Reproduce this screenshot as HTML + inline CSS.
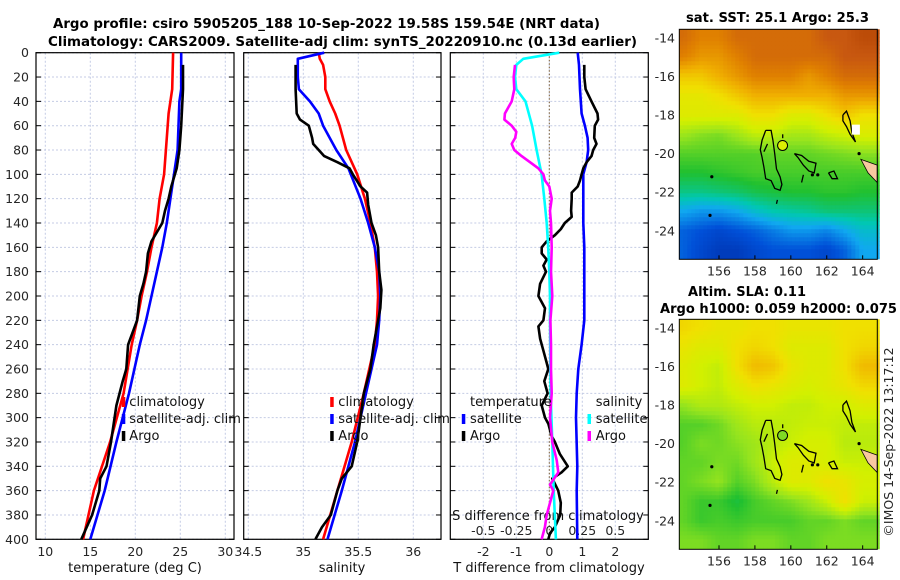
<!DOCTYPE html>
<html><head><meta charset="utf-8">
<style>
html,body{margin:0;padding:0;background:#fff;}
svg{display:block;font-family:"DejaVu Sans","Liberation Sans",sans-serif;}
.tk{font-size:12.5px;fill:#262626;}
.tt{font-size:13.5px;font-weight:bold;fill:#000;}
.lg{font-size:13px;fill:#111;}
</style></head>
<body>
<svg id="fig" width="900" height="580" viewBox="0 0 900 580">
<g id="bg"></g>
<text class="tt" x="53" y="28" textLength="547" lengthAdjust="spacingAndGlyphs">Argo profile: csiro 5905205_188 10-Sep-2022 19.58S 159.54E (NRT data)</text>
<text class="tt" x="48" y="46" textLength="589" lengthAdjust="spacingAndGlyphs">Climatology: CARS2009. Satellite-adj clim: synTS_20220910.nc (0.13d earlier)</text>
<text class="tt" x="686" y="22" textLength="183" lengthAdjust="spacingAndGlyphs">sat. SST: 25.1 Argo: 25.3</text>
<text class="tt" x="688" y="296" textLength="118" lengthAdjust="spacingAndGlyphs">Altim. SLA: 0.11</text>
<text class="tt" x="660" y="313" textLength="237" lengthAdjust="spacingAndGlyphs">Argo h1000: 0.059 h2000: 0.075</text>
<text class="tk" transform="translate(893,442) rotate(-90)" text-anchor="middle">©IMOS 14-Sep-2022 13:17:12</text>
</svg>
<script>
// ---------- data ----------
const depthTicks = [0,20,40,60,80,100,120,140,160,180,200,220,240,260,280,300,320,340,360,380,400];
const tempTicks = [10,15,20,25,30];
const salTicks = [34.5,35,35.5,36];
const salTickLabels = ["34.5","35","35.5","36"];
const tdiffTicks = [-2,-1,0,1,2];
const sdiffTicks = [-0.5,-0.25,0,0.25,0.5];
const sdiffTickLabels = ["-0.5","-0.25","0","0.25","0.5"];

const tClimDepth = [0,30,50,80,100,120,140,160,180,200,220,240,280,320,360,400];
const tClimVal   = [24.2,24.1,23.7,23.4,23.2,22.7,22.4,21.8,21.3,20.7,20.2,19.6,18.7,17.2,15.4,14.2];
const tSatDepth  = [0,30,40,60,80,100,120,140,160,180,200,220,240,280,320,360,400];
const tSatVal    = [25.1,25.1,24.9,24.8,24.7,24.3,23.9,23.5,23.0,22.4,21.8,21.2,20.5,19.3,17.9,16.6,15.0];
const tArgoDepth = [10,30,60,80,95,110,120,130,140,145,155,165,180,190,200,220,240,260,270,290,300,320,340,350,360,380,400];
const tArgoVal   = [25.3,25.3,25.1,24.9,24.6,24.0,23.7,23.3,23.0,22.6,21.8,21.4,21.2,20.9,20.5,20.2,19.2,19.0,18.6,17.9,17.7,17.3,16.8,16.1,16.0,15.2,14.0];

const sClimDepth = [0,5,10,20,30,40,50,60,80,100,120,140,160,180,200,220,240,280,320,360,400];
const sClimVal   = [35.14,35.15,35.18,35.20,35.20,35.24,35.29,35.33,35.39,35.49,35.56,35.61,35.65,35.67,35.68,35.67,35.65,35.55,35.44,35.31,35.18];
const sSatDepth  = [0,5,20,30,40,50,60,80,95,120,140,160,180,200,220,240,280,320,360,400];
const sSatVal    = [35.19,34.95,34.95,34.96,35.06,35.14,35.18,35.30,35.41,35.52,35.59,35.65,35.69,35.70,35.69,35.67,35.57,35.47,35.35,35.22];
const sArgoDepth = [10,30,50,55,60,70,75,80,85,90,95,100,110,115,125,140,150,160,180,195,210,230,240,260,280,300,320,340,350,360,380,390,400];
const sArgoVal   = [34.93,34.93,34.94,34.97,35.05,35.08,35.09,35.14,35.19,35.31,35.42,35.45,35.52,35.58,35.59,35.62,35.66,35.68,35.69,35.71,35.70,35.66,35.64,35.61,35.55,35.52,35.49,35.44,35.35,35.31,35.25,35.17,35.11];

const dSatTDepth = [0,10,30,50,60,70,80,90,100,120,140,160,200,220,240,260,280,300,340,360,400];
const dSatTVal   = [0.86,0.90,0.93,0.98,1.08,1.16,1.18,1.13,1.03,1.03,1.03,1.06,1.06,1.06,0.98,0.88,0.83,0.81,0.85,0.83,0.85];
const dArgoTDepth = [10,20,30,40,50,55,60,70,75,80,85,90,95,100,105,110,115,120,130,135,140,145,150,155,160,165,170,175,180,190,200,205,210,220,225,235,245,255,260,270,280,290,300,305,315,320,330,340,345,350,360,370,380,390,395,400];
const dArgoTVal   = [1.06,1.06,1.10,1.28,1.46,1.48,1.38,1.36,1.43,1.33,1.28,1.13,1.03,0.98,0.93,0.86,0.68,0.68,0.66,0.68,0.47,0.35,0.17,-0.08,-0.23,-0.23,-0.08,-0.18,-0.10,-0.28,-0.33,-0.23,-0.13,-0.18,-0.33,-0.28,-0.18,-0.08,-0.03,-0.15,-0.05,-0.23,-0.13,-0.03,0.07,0.17,0.32,0.56,0.37,0.09,0.27,0.35,0.33,0.17,0.02,-0.03];
const dSatSDepth = [0,5,10,20,30,40,60,80,100,120,140,160,180,200,220,280,320,360,400];
const dSatSVal   = [0.076,-0.197,-0.25,-0.26,-0.25,-0.18,-0.13,-0.096,-0.058,-0.038,-0.02,-0.008,0.0,0.005,0.005,0.01,0.023,0.033,0.05];
const dArgoSDepth = [10,20,30,40,50,55,60,65,70,75,80,85,90,95,100,105,110,120,130,140,160,180,200,220,240,260,280,300,320,335,345,355,360,380,390,400];
const dArgoSVal   = [-0.26,-0.27,-0.265,-0.285,-0.336,-0.34,-0.285,-0.25,-0.258,-0.285,-0.265,-0.21,-0.146,-0.083,-0.045,-0.033,0.0,0.018,0.005,0.013,0.018,0.013,0.023,0.008,0.013,0.013,0.018,0.005,0.023,0.056,0.068,0.005,0.03,-0.02,-0.033,-0.058];

// map grids: rows lat -14..-25 (1 deg), cols lon 154..164 (1 deg); values on colour scale 0..1
const sstGrid = [
[0.85,0.8,0.8,0.85,0.85,0.85,0.85,0.85,0.9,0.9,0.95],
[0.8,0.75,0.75,0.8,0.85,0.85,0.85,0.85,0.85,0.9,0.9],
[0.65,0.65,0.7,0.75,0.8,0.8,0.8,0.75,0.8,0.85,0.85],
[0.57,0.57,0.6,0.65,0.7,0.7,0.7,0.7,0.7,0.75,0.75],
[0.55,0.55,0.55,0.55,0.6,0.6,0.55,0.55,0.6,0.65,0.6],
[0.46,0.44,0.43,0.46,0.5,0.5,0.47,0.47,0.5,0.52,0.54],
[0.4,0.4,0.4,0.4,0.4,0.41,0.41,0.41,0.42,0.43,0.44],
[0.36,0.36,0.37,0.38,0.39,0.39,0.39,0.39,0.39,0.39,0.39],
[0.3,0.3,0.31,0.32,0.34,0.35,0.36,0.36,0.37,0.37,0.36],
[0.2,0.18,0.18,0.2,0.24,0.27,0.28,0.29,0.31,0.31,0.31],
[0.12,0.1,0.08,0.1,0.12,0.15,0.18,0.18,0.16,0.2,0.24],
[0.12,0.08,0.05,0.05,0.08,0.1,0.1,0.1,0.08,0.12,0.2]];
const slaGrid = [
[0.62,0.6,0.58,0.58,0.6,0.6,0.58,0.58,0.58,0.6,0.6],
[0.58,0.55,0.55,0.6,0.62,0.6,0.55,0.55,0.55,0.6,0.62],
[0.55,0.52,0.5,0.6,0.68,0.66,0.58,0.55,0.55,0.6,0.68],
[0.55,0.52,0.5,0.55,0.6,0.58,0.55,0.53,0.55,0.58,0.62],
[0.45,0.48,0.48,0.5,0.52,0.52,0.5,0.5,0.52,0.52,0.55],
[0.4,0.4,0.42,0.46,0.49,0.49,0.5,0.51,0.51,0.5,0.5],
[0.4,0.43,0.42,0.44,0.46,0.49,0.51,0.53,0.53,0.49,0.49],
[0.41,0.41,0.43,0.42,0.46,0.51,0.55,0.55,0.53,0.51,0.51],
[0.41,0.43,0.45,0.4,0.43,0.49,0.55,0.55,0.6,0.58,0.53],
[0.41,0.38,0.38,0.35,0.39,0.41,0.43,0.46,0.51,0.6,0.51],
[0.41,0.38,0.39,0.38,0.39,0.39,0.39,0.41,0.41,0.43,0.41],
[0.43,0.43,0.41,0.41,0.43,0.43,0.41,0.41,0.43,0.43,0.43]];
const mapLonTicks = [156,158,160,162,164];
const mapLatTicks = [-14,-16,-18,-20,-22,-24];
const argoLon = 159.54, argoLat = -19.58;

// ---------- helpers ----------
const NS = "http://www.w3.org/2000/svg";
const svg = document.getElementById('fig');
const bg = document.getElementById('bg');
function mk(tag, attrs, parent){ const e=document.createElementNS(NS,tag); for(const k in attrs) e.setAttribute(k,attrs[k]); (parent||svg).appendChild(e); return e; }
const yD = d => 52.7 + d*1.2165;
const Y0 = yD(0), Y1 = yD(400);
const xT = t => 45.3 + (t-10)*9;
const xS = s => 303.3 + (s-35)*110;
const xDT = v => 549.3 + v*33;
const xDS = s => 549.3 + s*132;
const panels = [{x0:36,x1:234},{x0:243.7,x1:441},{x0:450.3,x1:648.3}];

// ---------- profile panels ----------
function grids(p, xs, xf){
  xs.forEach(v=>{ const l=mk('line',{x1:xf(v),x2:xf(v),y1:Y0,y2:Y1,stroke:'#c4cbe4','stroke-width':1,'stroke-dasharray':'2,2'},bg);
      });
  depthTicks.forEach(d=>{ const l=mk('line',{x1:p.x0,x2:p.x1,y1:yD(d),y2:yD(d),stroke:'#c4cbe4','stroke-width':1,'stroke-dasharray':'2,2'},bg);
     
    const t1=mk('line',{x1:p.x0,x2:p.x0+5,y1:yD(d),y2:yD(d),stroke:'#000','stroke-width':1});
     
    const t2=mk('line',{x1:p.x1-5,x2:p.x1,y1:yD(d),y2:yD(d),stroke:'#000','stroke-width':1});
      });
  const r=mk('rect',{x:p.x0,y:Y0,width:p.x1-p.x0,height:Y1-Y0,fill:'none',stroke:'#000','stroke-width':1.2});
   
}
grids(panels[0], tempTicks, xT);
grids(panels[1], salTicks, xS);
grids(panels[2], tdiffTicks, xDT);
const zl = mk('line',{x1:xDT(0),x2:xDT(0),y1:Y0,y2:Y1,stroke:'#7a5a30','stroke-width':1,'stroke-dasharray':'1.5,2'});
 

depthTicks.forEach(d=>{ const t=mk('text',{x:29,y:yD(d)+4.5,'text-anchor':'end',class:'tk'}); t.textContent=d;
    });
tempTicks.forEach(v=>{ const t=mk('text',{x:xT(v),y:556,'text-anchor':'middle',class:'tk'}); t.textContent=v;
    });
salTicks.forEach((v,i)=>{ const t=mk('text',{x:xS(v),y:556,'text-anchor':'middle',class:'tk'}); t.textContent=salTickLabels[i];
    });
tdiffTicks.forEach(v=>{ const t=mk('text',{x:xDT(v),y:556,'text-anchor':'middle',class:'tk'}); t.textContent=v;
    });
sdiffTicks.forEach((v,i)=>{ const t=mk('text',{x:xDS(v),y:535,'text-anchor':'middle',class:'tk'}); t.textContent=sdiffTickLabels[i];
    });
[['temperature (deg C)',135,'temperature-axis-title'],['salinity',342,'salinity-axis-title'],['T difference from climatology',549,'t-difference-axis-title']].forEach(a=>{
  const t=mk('text',{x:a[1],y:572,'text-anchor':'middle',class:'lg'}); t.textContent=a[0];
    });
const sdt=mk('text',{x:548,y:520,'text-anchor':'middle',class:'lg'}); sdt.textContent='S difference from climatology';
 

function series(depths, vals, xf, color, name){
  const pts = depths.map((d,i)=>xf(vals[i]).toFixed(1)+','+yD(d).toFixed(1)).join(' ');
  const l = mk('polyline',{points:pts,fill:'none',stroke:color,'stroke-width':2.6,'stroke-linejoin':'round'});
   
}
series(tClimDepth,tClimVal,xT,'#ff0000','temperature-climatology-line');
series(tSatDepth,tSatVal,xT,'#0000ff','temperature-satellite-adj-line');
series(tArgoDepth,tArgoVal,xT,'#000000','temperature-argo-line');
series(sClimDepth,sClimVal,xS,'#ff0000','salinity-climatology-line');
series(sSatDepth,sSatVal,xS,'#0000ff','salinity-satellite-adj-line');
series(sArgoDepth,sArgoVal,xS,'#000000','salinity-argo-line');
series(dSatTDepth,dSatTVal,xDT,'#0000ff','t-diff-satellite-line');
series(dArgoTDepth,dArgoTVal,xDT,'#000000','t-diff-argo-line');
series(dSatSDepth,dSatSVal,xDS,'#00ffff','s-diff-satellite-line');
series(dArgoSDepth,dArgoSVal,xDS,'#ff00ff','s-diff-argo-line');

function legendItem(mx, tx, y, color, label){
  const m=mk('rect',{x:mx-1.5,y:y-9,width:3.5,height:10,fill:color});
   
  const t=mk('text',{x:tx,y:y,class:'lg'}); t.textContent=label;
   
}
legendItem(123.3,129.3,406,'#ff0000','climatology');
legendItem(123.3,129.3,423,'#0000ff','satellite-adj. clim');
legendItem(123.3,129.3,440,'#000000','Argo');
legendItem(331.7,338.3,406,'#ff0000','climatology');
legendItem(331.7,338.3,423,'#0000ff','satellite-adj. clim');
legendItem(331.7,338.3,440,'#000000','Argo');
const lt1=mk('text',{x:470,y:406,class:'lg'}); lt1.textContent='temperature';
 
const lt2=mk('text',{x:595.7,y:406,class:'lg'}); lt2.textContent='salinity';
 
legendItem(463.3,470,423,'#0000ff','satellite');
legendItem(463.3,470,440,'#000000','Argo');
legendItem(589,595.7,423,'#00ffff','satellite');
legendItem(589,595.7,440,'#ff00ff','Argo');

// ---------- maps ----------
const cstops=[[0,[0,40,160]],[0.1,[0,80,216]],[0.2,[16,168,240]],[0.27,[0,200,176]],[0.36,[32,192,48]],[0.45,[150,228,30]],[0.52,[210,240,0]],[0.6,[240,224,0]],[0.7,[240,176,0]],[0.8,[224,128,0]],[0.9,[200,88,16]],[1,[176,64,0]]];
function cmap(v){ v=Math.max(0,Math.min(1,v)); for(let i=1;i<cstops.length;i++){ if(v<=cstops[i][0]){ const a=cstops[i-1],b=cstops[i],f=(v-a[0])/(b[0]-a[0]);
  return 'rgb('+a[1].map((c,k)=>Math.round(c+(b[1][k]-c)*f)).join(',')+')'; } } return 'rgb(176,64,0)'; }
const LON0=153.79, LON1=164.81, LAT0=-13.56, LAT1=-25.48;
const mx = lon => 679.3 + (lon-LON0)*17.96;
function sample(grid, lon, lat){
  let c=Math.max(0,Math.min(10,lon-154)), r=Math.max(0,Math.min(11,-14-lat));
  const c0=Math.min(9,Math.floor(c)), r0=Math.min(10,Math.floor(r)), fc=c-c0, fr=r-r0;
  return grid[r0][c0]*(1-fc)*(1-fr)+grid[r0][c0+1]*fc*(1-fr)+grid[r0+1][c0]*(1-fc)*fr+grid[r0+1][c0+1]*fc*fr;
}
const islands=[
 [[158.6,-18.8],[158.9,-18.8],[159.0,-19.3],[159.1,-20.0],[159.2,-20.8],[159.4,-21.2],[159.5,-21.6],[159.4,-21.9],[159.1,-21.8],[158.9,-21.4],[158.6,-21.3],[158.5,-20.7],[158.4,-20.2],[158.3,-19.8],[158.4,-19.3],[158.6,-18.8]],
 [[160.2,-20.0],[160.6,-20.1],[161.0,-20.4],[161.4,-20.5],[161.3,-21.0],[161.0,-20.9],[160.7,-20.6],[160.4,-20.2],[160.2,-20.0]],
 [[162.1,-21.0],[162.4,-20.9],[162.6,-21.3],[162.3,-21.3],[162.1,-21.0]],
 [[162.9,-18.0],[163.1,-17.8],[163.3,-18.3],[163.4,-18.9],[163.6,-19.4],[163.3,-19.0],[163.1,-18.6],[162.9,-18.3],[162.9,-18.0]],
 [[160.7,-21.1],[160.6,-21.5]],[[159.25,-22.4],[159.2,-22.6]],[[159.55,-19.0],[159.55,-19.2]],[[158.7,-19.5],[158.5,-19.9]]];
const dots=[[155.6,-21.2],[155.5,-23.2],[161.2,-21.1],[161.5,-21.1],[163.8,-20.0]];
function drawMap(grid, top, name, markerFill){
  const g=mk('g',{});  
  const my = lat => top + (LAT0-lat)*19.3;
  const W=877.3-679.3, H=230, step=4;
  for(let yy=0; yy<H; yy+=step){ for(let xx=0; xx<W; xx+=step){
    const lon=LON0+(xx+step/2)/17.96, lat=LAT0-(yy+step/2)/19.3;
    mk('rect',{x:(679.3+xx).toFixed(1),y:(top+yy).toFixed(1),width:step+0.4,height:Math.min(step+0.4,H-yy),fill:cmap(sample(grid,lon,lat))},g); } }
  const land=mk('polygon',{points:[[163.9,-20.3],[164.81,-20.6],[164.81,-21.5],[164.3,-21.0]].map(p=>mx(p[0])+','+my(p[1])).join(' '),fill:'#f8c8a0',stroke:'#000','stroke-width':0.8},g);
   
  islands.forEach(isl=>{ const p=mk('polyline',{points:isl.map(q=>mx(q[0]).toFixed(1)+','+my(q[1]).toFixed(1)).join(' '),fill:'none',stroke:'#000','stroke-width':1.3},g);
      });
  dots.forEach(q=>{ const c=mk('circle',{cx:mx(q[0]),cy:my(q[1]),r:1.6,fill:'#000'},g);
      });
  const mkr=mk('circle',{cx:mx(argoLon),cy:my(argoLat),r:5,fill:markerFill,stroke:'#000','stroke-width':1});
   
  const fr=mk('rect',{x:679.3,y:top,width:W,height:H,fill:'none',stroke:'#000','stroke-width':1});
   
  mapLonTicks.forEach(v=>{ const t=mk('text',{x:mx(v),y:top+H+16,'text-anchor':'middle',class:'tk'}); t.textContent=v;
     
    const k=mk('line',{x1:mx(v),x2:mx(v),y1:top+H,y2:top+H-4,stroke:'#000'});   });
  mapLatTicks.forEach(v=>{ const t=mk('text',{x:675,y:my(v)+4.5,'text-anchor':'end',class:'tk'}); t.textContent=v;
      });
}
drawMap(sstGrid, 29.3, 'sst-map', 'rgba(230,240,0,0.9)');
drawMap(slaGrid, 319.3, 'sla-map', 'rgba(120,215,40,0.9)');
// white no-data patch on SST map
const wp=mk('rect',{x:mx(163.4),y:29.3+(LAT0+18.5)*19.3,width:8,height:10,fill:'#fff'});
 
</script>
</body></html>
